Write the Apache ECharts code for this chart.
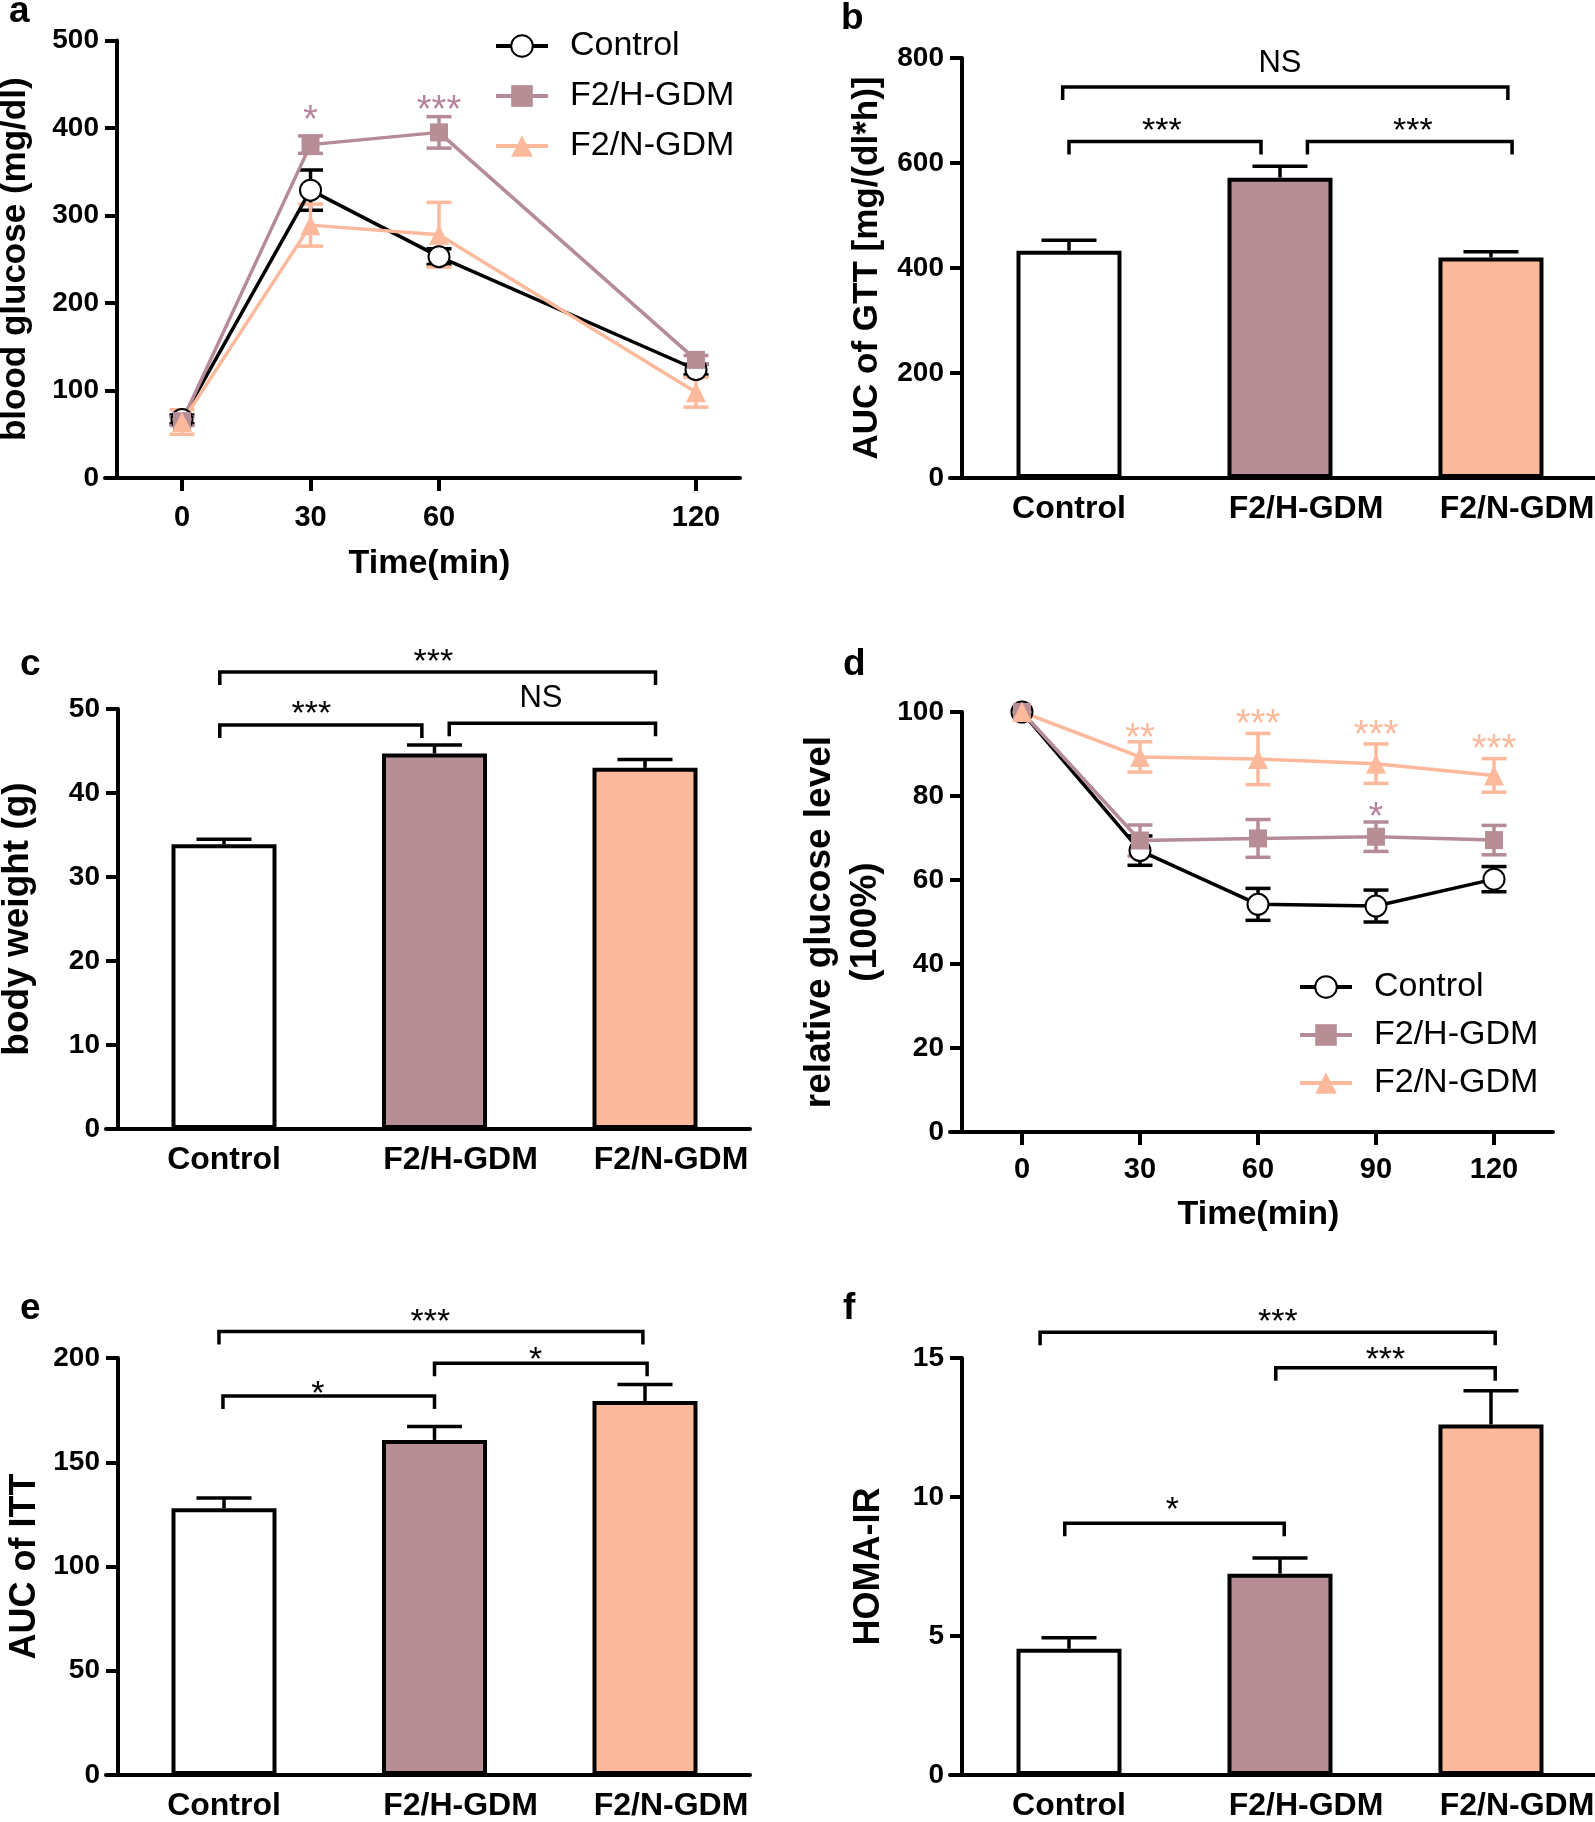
<!DOCTYPE html>
<html><head><meta charset="utf-8">
<script src="https://cdn.jsdelivr.net/npm/echarts@6/dist/echarts.min.js"></script>
<style>html,body{margin:0;padding:0;background:#fff}#chart{width:1595px;height:1822px}</style>
</head><body><div id="chart"></div>
<script>
// ================= DATA =================
const groups = ['Control', 'F2/H-GDM', 'F2/N-GDM'];

// (a) glucose tolerance test
const gttTimes = [0, 30, 60, 120];
const gttControl = [67, 329, 253, 124];
const gttControlErr = [5, 23, 9, 6];
const gttHGDM = [65, 381, 395, 135];
const gttHGDMErr = [5, 10, 18, 5];
const gttNGDM = [64, 289, 278, 98];
const gttNGDMErr = [14, 24, 37, 17];
const gttHStars = [[30, 418, '*'], [60, 429, '***']];

// (b) AUC of GTT
const aucGtt = [433, 572, 420];
const aucGttErr = [20, 22, 11];
// [from, to, y, text, textX, textY]
const aucGttBrackets = [[-0.03, 2.08, 745, 'NS', 1.0, 790], [0.0, 0.91, 641, '***', 0.44, 676], [1.13, 2.10, 641, '***', 1.63, 676]];

// (c) body weight
const bodyWeight = [33.9, 44.7, 43.0];
const bodyWeightErr = [0.6, 1.0, 1.0];
const bodyWeightBrackets = [[-0.02, 2.05, 54.4, '***', 0.995, 56.5], [-0.02, 0.94, 48.1, '***', 0.415, 50.3], [1.07, 2.05, 48.3, 'NS', 1.506, 51.2]];

// (d) insulin tolerance test
const ittTimes = [0, 30, 60, 90, 120];
const ittControl = [100, 67, 54.2, 53.8, 60.2];
const ittControlErr = [0, 3.5, 3.8, 3.8, 3];
const ittHGDM = [100, 69.4, 69.9, 70.3, 69.5];
const ittHGDMErr = [0, 3.7, 4.5, 3.5, 3.5];
const ittNGDM = [100, 89.3, 88.8, 87.7, 84.9];
const ittNGDMErr = [0, 3.6, 6.1, 4.7, 4];
const ittNStars = [[30, 95.7, '**'], [60, 98.9, '***'], [90, 96.3, '***'], [120, 92.9, '***']];
const ittHStars = [[90, 76.9, '*']];

// (e) AUC of ITT
const aucItt = [127.9, 160.7, 179.4];
const aucIttErr = [4.9, 6.5, 7.9];
const aucIttBrackets = [[-0.024, 1.99, 212.7, '***', 0.98, 221], [-0.005, 1.0, 181.8, '*', 0.446, 186.3], [1.0, 2.01, 197.5, '*', 1.48, 202.5]];

// (f) HOMA-IR
const homaIR = [4.54, 7.24, 12.61];
const homaIRErr = [0.4, 0.57, 1.21];
const homaBrackets = [[-0.137, 2.02, 15.93, '***', 0.99, 16.58], [0.98, 2.02, 14.65, '***', 1.5, 15.21], [-0.02, 1.02, 9.06, '*', 0.49, 9.8]];

// ================= STYLE =================
const FONT = "'Liberation Sans', Arial, Helvetica, sans-serif";
const C_H = '#b78d96', C_N = '#fdb99b', C_HL = '#b48b96', C_NL = '#fdb99b', C_HS = '#b5839e';
const barColors = ['#ffffff', C_H, C_N];
const AX_W = 4;

function yAx(gi, max, interval, name, nameGap, extraName) {
  return {
    type: 'value', gridIndex: gi, min: 0, max: max, interval: interval, offset: -12,
    axisLine: { show: true, onZero: false, lineStyle: { color: '#000', width: AX_W } },
    axisTick: { show: true, length: 12, lineStyle: { color: '#000', width: AX_W } },
    axisLabel: { margin: 18, fontFamily: FONT, fontWeight: 'bold', fontSize: 28, color: '#000' },
    splitLine: { show: false },
    name: name, nameLocation: 'middle', nameGap: nameGap, nameRotate: 90,
    nameTextStyle: Object.assign({ fontFamily: FONT, fontWeight: 'bold', fontSize: 35, color: '#000' }, extraName || {})
  };
}
function xTimeAx(gi, min, max, ticks, labelMargin, nameGap) {
  return {
    type: 'value', gridIndex: gi, min: min, max: max,
    axisLine: { show: true, onZero: false, lineStyle: { color: '#000', width: AX_W } },
    axisTick: { show: true, customValues: ticks, length: 13, lineStyle: { color: '#000', width: AX_W } },
    axisLabel: { customValues: ticks, margin: labelMargin, fontFamily: FONT, fontWeight: 'bold', fontSize: 29, color: '#000' },
    splitLine: { show: false },
    name: 'Time(min)', nameLocation: 'middle', nameGap: nameGap,
    nameTextStyle: { fontFamily: FONT, fontWeight: 'bold', fontSize: 34, color: '#000', padding: [0, 0, 0, 14] }
  };
}
function xCatAx(gi, min, max) {
  const lab = { fontFamily: FONT, fontWeight: 'bold', fontSize: 32, color: '#000' };
  return {
    type: 'value', gridIndex: gi, min: min, max: max,
    axisLine: { show: true, onZero: false, lineStyle: { color: '#000', width: AX_W } },
    axisTick: { show: false },
    splitLine: { show: false },
    axisLabel: {
      customValues: [0, 1, 2], margin: 15,
      formatter: function (v) { const i = Math.round(v); return (i === 0 ? '{c|' : '{s|') + groups[i] + '}'; },
      rich: { c: lab, s: Object.assign({ padding: [0, 0, 0, 52] }, lab) }
    }
  };
}
function lineSeries(xi, name, xs, ys, symbol, size, color, lineColor) {
  return {
    type: 'line', name: name, xAxisIndex: xi, yAxisIndex: xi, z: 4,
    data: xs.map((x, i) => [x, ys[i]]),
    symbol: symbol, symbolSize: size, showAllSymbol: true,
    itemStyle: symbol === 'emptyCircle' ? { color: color, borderWidth: 4 } : { color: color },
    lineStyle: { color: lineColor, width: 3.5 }
  };
}
function errSeries(xi, xs, ys, errs, color, capW, upOnly, z) {
  return {
    type: 'custom', xAxisIndex: xi, yAxisIndex: xi, z: z, clip: false, silent: true,
    data: xs.map((x, i) => [x, ys[i], errs[i]]),
    renderItem: function (params, api) {
      const x = api.value(0), y = api.value(1), e = api.value(2);
      if (!e) return null;
      const top = api.coord([x, y + e]);
      const bot = api.coord([x, upOnly ? y : y - e]);
      const st = { stroke: color, lineWidth: 3.5 };
      const ch = [
        { type: 'line', shape: { x1: top[0], y1: top[1], x2: bot[0], y2: bot[1] }, style: st },
        { type: 'line', shape: { x1: top[0] - capW / 2, y1: top[1], x2: top[0] + capW / 2, y2: top[1] }, style: st }
      ];
      if (!upOnly) ch.push({ type: 'line', shape: { x1: bot[0] - capW / 2, y1: bot[1], x2: bot[0] + capW / 2, y2: bot[1] }, style: st });
      return { type: 'group', children: ch };
    }
  };
}
function barSeries(xi, vals) {
  return {
    type: 'bar', xAxisIndex: xi, yAxisIndex: xi, barWidth: 105, z: 2,
    data: vals.map((v, i) => ({ value: [i, v], itemStyle: { color: barColors[i] } })),
    itemStyle: { borderColor: '#000', borderWidth: 4 }
  };
}
function starShift(t, fs) { return t.indexOf('*') >= 0 ? 0.24 * fs : 0; }
function bracketSeries(xi, list) {
  const fs = 34;
  return {
    type: 'custom', xAxisIndex: xi, yAxisIndex: xi, z: 6, clip: false, silent: true,
    data: list.map(b => [b[0], b[1], b[2], b[4], b[5]]),
    renderItem: function (params, api) {
      const p1 = api.coord([api.value(0), api.value(2)]);
      const p2 = api.coord([api.value(1), api.value(2)]);
      const t = api.coord([api.value(3), api.value(4)]);
      const txt = list[params.dataIndex][3];
      return { type: 'group', children: [
        { type: 'polyline', shape: { points: [[p1[0], p1[1] + 13], [p1[0], p1[1]], [p2[0], p2[1]], [p2[0], p2[1] + 13]] },
          style: { stroke: '#000', lineWidth: 3.5, fill: null } },
        { type: 'text', x: t[0], y: t[1] + starShift(txt, fs),
          style: { text: txt, fontFamily: FONT, fontSize: txt === 'NS' ? 31 : fs, fill: '#000', align: 'center', verticalAlign: 'middle' } }
      ] };
    }
  };
}
function starSeries(xi, list, color) {
  const fs = 38;
  return {
    type: 'custom', xAxisIndex: xi, yAxisIndex: xi, z: 6, clip: false, silent: true,
    data: list.map(s => [s[0], s[1]]),
    renderItem: function (params, api) {
      const p = api.coord([api.value(0), api.value(1)]);
      const txt = list[params.dataIndex][2];
      return { type: 'text', x: p[0], y: p[1] + starShift(txt, fs),
        style: { text: txt, fontFamily: FONT, fontSize: fs, fill: color, align: 'center', verticalAlign: 'middle' } };
    }
  };
}
function panelLabel(t, x, y) {
  return { type: 'text', x: x, y: y, style: { text: t, fontFamily: FONT, fontWeight: 'bold', fontSize: 37, fill: '#000', align: 'left', verticalAlign: 'middle' } };
}
const legendBase = {
  orient: 'vertical', itemWidth: 52, itemHeight: 27, padding: 5, selectedMode: false,
  data: [{ name: 'Control', itemStyle: { borderWidth: 4 } }, { name: 'F2/H-GDM' }, { name: 'F2/N-GDM' }],
  lineStyle: { width: 4 },
  textStyle: { fontFamily: FONT, fontSize: 34, color: '#000', padding: [0, 0, 0, 17] }
};

const option = {
  animation: false,
  backgroundColor: '#fff',
  grid: [
    { left: 105, top: 40.5, width: 635, height: 437.5, outerBoundsMode: 'none' },
    { left: 950, top: 58, width: 645, height: 420, outerBoundsMode: 'none' },
    { left: 106, top: 709, width: 644, height: 420, outerBoundsMode: 'none' },
    { left: 950, top: 712, width: 603, height: 420, outerBoundsMode: 'none' },
    { left: 106, top: 1358, width: 644, height: 417, outerBoundsMode: 'none' },
    { left: 950, top: 1358, width: 645, height: 417, outerBoundsMode: 'none' }
  ],
  xAxis: [
    xTimeAx(0, -17.98, 130.27, gttTimes, 25, 69),
    xCatAx(1, -0.564, 2.493),
    xCatAx(2, -0.5606, 2.4988),
    xTimeAx(3, -18.3, 135.0, ittTimes, 23, 66),
    xCatAx(4, -0.5606, 2.4988),
    xCatAx(5, -0.564, 2.493)
  ],
  yAxis: [
    yAx(0, 500, 100, 'blood glucose (mg/dl)', 84),
    yAx(1, 800, 200, 'AUC of GTT [mg/(dl*h)]', 77),
    yAx(2, 50, 10, 'body weight (g)', 82, { fontSize: 37 }),
    yAx(3, 100, 20, 'relative glucose level\n(100%)', 73, { fontSize: 37, lineHeight: 46 }),
    yAx(4, 200, 50, 'AUC of ITT', 75, { fontSize: 36 }),
    yAx(5, 15, 5, 'HOMA-IR', 75, { fontSize: 36 })
  ],
  legend: [
    Object.assign({ left: 489, top: 24, itemGap: 16 }, legendBase),
    Object.assign({ left: 1293, top: 965, itemGap: 14 }, legendBase)
  ],
  graphic: [
    panelLabel('a', 9, 12), panelLabel('b', 841, 19), panelLabel('c', 20, 665),
    panelLabel('d', 843, 665), panelLabel('e', 20, 1309), panelLabel('f', 843, 1309)
  ],
  series: [
    // (a)
    errSeries(0, gttTimes, gttControl, gttControlErr, '#000', 25, false, 3),
    errSeries(0, gttTimes, gttHGDM, gttHGDMErr, C_HL, 25, false, 3),
    errSeries(0, gttTimes, gttNGDM, gttNGDMErr, C_NL, 25, false, 3),
    lineSeries(0, 'Control', gttTimes, gttControl, 'emptyCircle', 21, '#000', '#000'),
    lineSeries(0, 'F2/H-GDM', gttTimes, gttHGDM, 'rect', 18, C_H, C_HL),
    lineSeries(0, 'F2/N-GDM', gttTimes, gttNGDM, 'triangle', 20, C_N, C_NL),
    starSeries(0, gttHStars, C_HS),
    // (b)
    barSeries(1, aucGtt),
    errSeries(1, [0, 1, 2], aucGtt, aucGttErr, '#000', 55, true, 3),
    bracketSeries(1, aucGttBrackets),
    // (c)
    barSeries(2, bodyWeight),
    errSeries(2, [0, 1, 2], bodyWeight, bodyWeightErr, '#000', 55, true, 3),
    bracketSeries(2, bodyWeightBrackets),
    // (d)
    errSeries(3, ittTimes, ittControl, ittControlErr, '#000', 25, false, 3),
    errSeries(3, ittTimes, ittHGDM, ittHGDMErr, C_HL, 25, false, 3),
    errSeries(3, ittTimes, ittNGDM, ittNGDMErr, C_NL, 25, false, 3),
    lineSeries(3, 'Control', ittTimes, ittControl, 'emptyCircle', 21, '#000', '#000'),
    lineSeries(3, 'F2/H-GDM', ittTimes, ittHGDM, 'rect', 18, C_H, C_HL),
    lineSeries(3, 'F2/N-GDM', ittTimes, ittNGDM, 'triangle', 20, C_N, C_NL),
    starSeries(3, ittNStars, C_N),
    starSeries(3, ittHStars, C_HS),
    // (e)
    barSeries(4, aucItt),
    errSeries(4, [0, 1, 2], aucItt, aucIttErr, '#000', 55, true, 3),
    bracketSeries(4, aucIttBrackets),
    // (f)
    barSeries(5, homaIR),
    errSeries(5, [0, 1, 2], homaIR, homaIRErr, '#000', 55, true, 3),
    bracketSeries(5, homaBrackets)
  ]
};

const chart = echarts.init(document.getElementById('chart'), null, { renderer: 'canvas', width: 1595, height: 1822 });
chart.setOption(option);
</script>
</body></html>
